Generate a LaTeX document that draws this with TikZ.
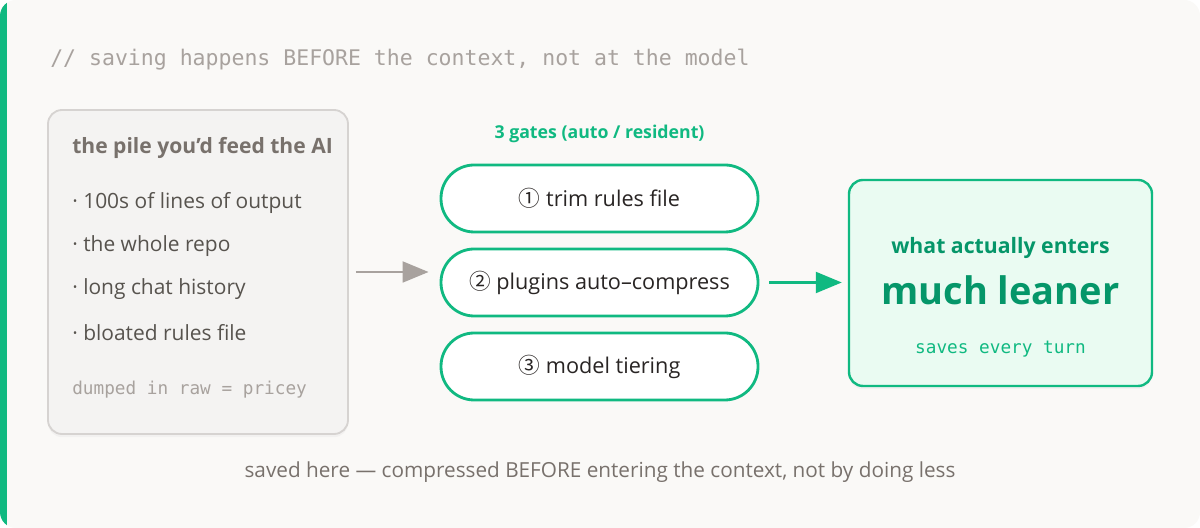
\documentclass[tikz,border=0pt]{standalone}
\usepackage{fontspec}
\setmainfont{Open Sans}
\setmonofont{DejaVu Sans Mono}
\newfontfamily\circfont{Noto Sans CJK SC}
\definecolor{bg}{HTML}{FAF9F7}
\definecolor{emer}{HTML}{10B981}
\definecolor{emdk}{HTML}{059669}
\definecolor{resbg}{HTML}{EAFBF2}
\definecolor{pilebg}{HTML}{F4F3F2}
\definecolor{pileln}{HTML}{D6D3D1}
\definecolor{warm}{HTML}{A8A29E}
\definecolor{warmdk}{HTML}{78716C}
\definecolor{stone}{HTML}{57534E}
\definecolor{ink}{HTML}{292524}
\usetikzlibrary{arrows.meta,positioning,shadows}

\begin{document}
\begin{tikzpicture}[
  pile/.style={rectangle, rounded corners=0.35cm, minimum width=7.5cm,
               minimum height=8.1cm, fill=pilebg, draw=pileln, line width=1.3pt,
               drop shadow={opacity=0.06, shadow xshift=0cm, shadow yshift=-0.08cm}},
  gate/.style={rectangle, rounded corners=0.83cm, minimum width=7.925cm,
               minimum height=1.675cm, fill=white, draw=emer, line width=2pt,
               font=\fontsize{15.4}{18}\selectfont, text=ink},
  res/.style={rectangle, rounded corners=0.35cm, minimum width=7.575cm,
              minimum height=5.15cm, fill=resbg, draw=emer, line width=1.7pt,
              drop shadow={opacity=0.06, shadow xshift=0cm, shadow yshift=-0.08cm}},
  lft/.style={anchor=west, inner xsep=0pt},
  ttl/.style={font=\ttfamily\fontsize{15.3}{18}\selectfont, text=warm},
  phead/.style={font=\bfseries\fontsize{15}{18}\selectfont, text=warmdk},
  pitem/.style={font=\fontsize{14.9}{18}\selectfont, text=stone},
  pnote/.style={font=\ttfamily\fontsize{12.6}{15}\selectfont, text=warm},
  glbl/.style={font=\bfseries\fontsize{12.6}{15}\selectfont, text=emer},
  rtop/.style={font=\bfseries\fontsize{15.1}{18}\selectfont, text=emdk},
  rbig/.style={font=\bfseries\fontsize{27}{32}\selectfont, text=emdk},
  rnote/.style={font=\ttfamily\fontsize{12.6}{15}\selectfont, text=emer},
  foot/.style={font=\fontsize{14.75}{17}\selectfont, text=warmdk},
  arr/.style={-{Triangle[length=0.65cm, width=0.52cm]}},
]
% background and side bar
\fill[white] (0,0) rectangle (30,13.2);
\fill[bg, rounded corners=0.4cm] (0,0) rectangle (30,13.2);
\begin{scope}
  \clip[rounded corners=0.4cm] (0,0) rectangle (30,13.2);
  \fill[emer] (0,0) rectangle (0.175,13.2);
\end{scope}

\node[ttl, lft] (title) at (1.25,11.72) {// saving happens BEFORE the context, not at the model};

% the raw pile
\node[pile] (pile) at (4.95,6.4) {};
\node[phead, lft] (phd) at (1.8,9.5) {the pile you'd feed the AI};
\node[pitem, lft] (p1) at (1.8,8.12) {·\ 100s of lines of output};
\node[pitem, lft] (p2) at (1.8,7.045) {·\ the whole repo};
\node[pitem, lft] (p3) at (1.8,5.97) {·\ long chat history};
\node[pitem, lft] (p4) at (1.8,4.895) {·\ bloated rules file};
\node[pnote, lft] (pn) at (1.8,3.45) {dumped in raw = pricey};

% gates
\node[glbl] (glbl) at (14.9875,9.86) {3 gates (auto / resident)};
\node[gate] (g1) at (14.9875,8.2375) {{\circfont ①} trim rules file};
\node[gate] (g2) at (14.9875,6.1375) {{\circfont ②} plugins auto–compress};
\node[gate] (g3) at (14.9875,4.0375) {{\circfont ③} model tiering};

% result
\node[res] (res) at (25.0125,6.125) {};
\node[rtop] (rtop) at (25.0125,7.0) {what actually enters};
\node[rbig] (rbig) at (25.0125,5.95) {much leaner};
\node[rnote] (rnote) at (25.0125,4.475) {saves every turn};

\draw[arr, warm, line width=1.8pt, shorten <=0.175cm, shorten >=0.275cm]
  (pile.east) -- (pile.east -| g2.west);
\draw[arr, emer, line width=2pt, shorten <=0.25cm, shorten >=0.15cm]
  (g2.east) -- (g2.east -| res.west);

\node[foot] (foot) at (15,1.4) {saved here — compressed BEFORE entering the context, not by doing less};
\end{tikzpicture}
\end{document}
